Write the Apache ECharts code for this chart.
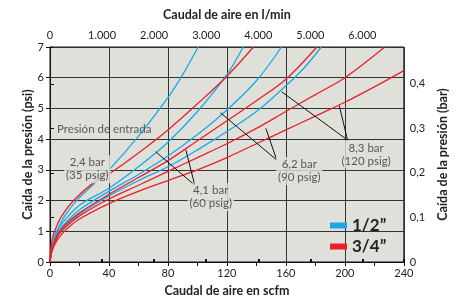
<!DOCTYPE html>
<html>
<head>
<meta charset="utf-8">
<script src="https://cdn.jsdelivr.net/npm/echarts@6/dist/echarts.min.js"></script>
<style>
html, body { margin: 0; padding: 0; background: #fff; }
#chart { width: 457px; height: 302px; }
</style>
</head>
<body>
<div id="chart"></div>
<script>
// caudal (scfm) / caída de presión (psi)
// 1/2" (azul)
var half24 = [[0,0],[0.5,0.3],[1.5,0.6],[3,0.85],[5,1.05],[10,1.5],[18,2.0],[30,2.55],[41,3.05],[60,4.1],[80,5.35],[90,6.1],[100.5,7]];
var half41 = [[0,0],[0.8,0.3],[2.5,0.65],[4.5,0.95],[8,1.25],[20,1.85],[40,2.4],[60,3.1],[80,3.9],[100,4.9],[120,6.1],[131,7]];
var half62 = [[0,0],[1,0.3],[3,0.65],[5.5,0.95],[9,1.2],[20,1.7],[40,2.3],[60,2.85],[80,3.45],[100,4.15],[120,4.95],[140,5.9],[157,7]];
var half83 = [[0,0],[1,0.3],[3,0.6],[6,0.9],[10,1.15],[20,1.55],[40,2.15],[60,2.65],[80,3.1],[100,3.65],[120,4.25],[140,4.9],[158,5.65],[172,6.3],[184,7]];
// 3/4" (rojo)
var quart24 = [[0,0],[0.3,0.3],[1,0.6],[2,0.85],[3.5,1.05],[8,1.5],[16,2.0],[30,2.6],[41,2.9],[60,3.55],[80,4.3],[100,5.15],[120,6.05],[138,7]];
var quart41 = [[0,0],[0.8,0.3],[2.5,0.6],[5,0.9],[9,1.15],[20,1.6],[40,2.2],[60,2.75],[80,3.3],[100,3.95],[120,4.6],[140,5.25],[160,5.95],[181,7]];
var quart62 = [[0,0],[1,0.3],[3,0.6],[6,0.9],[11,1.15],[20,1.5],[40,2.05],[60,2.5],[80,2.95],[100,3.4],[120,3.85],[140,4.35],[160,4.9],[180,5.45],[200,6.0],[227,7]];
var quart83 = [[0,0],[1,0.3],[3,0.55],[7,0.85],[12,1.1],[20,1.4],[40,1.9],[60,2.3],[80,2.65],[100,3.0],[120,3.4],[140,3.85],[160,4.3],[180,4.75],[200,5.2],[220,5.7],[240,6.23]];

// etiquetas de presión de entrada (posición en scfm/psi)
var labelText = ['Presión de entrada', '2,4 bar\n(35 psig)', '4,1 bar\n(60 psig)', '6,2 bar\n(90 psig)', '8,3 bar\n(120 psig)'];
var labelAt = [[36.8,4.32],[25.3,3.02],[109,2.11],[169.1,2.96],[214.4,3.5]];
var leaders = [
    [[71.7,3.59],[98.2,2.5]], [[92.2,3.64],[98.2,2.5]],
    [[115.6,4.86],[153.8,3.32]], [[146.4,4.35],[153.8,3.32]],
    [[157.2,5.54],[201.8,3.97]], [[196.2,5.09],[201.8,3.97]]
];

var SCFM_TO_LMIN = 28.317;
var PSI_TO_BAR = 0.0689476;
var FLOW_MAX = 240;
var PSI_MAX = 7;

var BLUE = '#1aa9e6';
var RED = '#e8202a';
var BG = '#e0e0db';
var FONT = 'Lato';

function curve(name, color, data) {
    return {
        type: 'line', name: name, data: data,
        showSymbol: false, smooth: 0.35,
        lineStyle: { color: color, width: 1.3 },
        itemStyle: { color: color },
        z: 3, silent: true
    };
}

var nameStyle = { fontFamily: FONT, fontWeight: 'bold', fontSize: 12.5, color: '#222' };
var labelStyle = { fontFamily: FONT, fontSize: 11, color: '#222' };

var series = [
    curve('1/2\u201D', BLUE, half24),
    curve('1/2\u201D', BLUE, half41),
    curve('1/2\u201D', BLUE, half62),
    curve('1/2\u201D', BLUE, half83),
    curve('3/4\u201D', RED, quart24),
    curve('3/4\u201D', RED, quart41),
    curve('3/4\u201D', RED, quart62),
    curve('3/4\u201D', RED, quart83)
];

//etiquetas y líneas guía
series.push({
    type: 'scatter',
    symbolSize: 1,
    itemStyle: { color: 'rgba(0,0,0,0)' },
    silent: true,
    z: 10,
    data: labelAt.map(function (p, i) {
        return {
            value: p,
            label: {
                formatter: labelText[i],
                backgroundColor: i === 0 ? 'transparent' : BG
            }
        };
    }),
    label: {
        show: true, position: 'inside',
        fontFamily: FONT, fontSize: 11.5, lineHeight: 13, color: '#333',
        align: 'center', padding: [1, 2]
    },
    markLine: {
        silent: true, symbol: ['none', 'none'],
        label: { show: false },
        lineStyle: { color: '#111', width: 1, type: 'solid' },
        data: leaders.map(function (l) {
            return [{ coord: l[0] }, { coord: l[1] }];
        })
    }
});

var myChart = echarts.init(document.getElementById('chart'));
var option = {
    animation: false,
    grid: {
        left: 50, right: 51, top: 47, bottom: 38,
        show: true, backgroundColor: BG, borderColor: '#111', borderWidth: 1
    },
    legend: {
        orient: 'vertical', left: 325, top: 212,
        itemWidth: 17, itemHeight: 6, itemGap: 4,
        icon: 'rect',
        data: ['1/2\u201D', '3/4\u201D'],
        textStyle: { fontFamily: FONT, fontSize: 17, fontWeight: 'bold', color: '#222' }
    },
    xAxis: [
        {
            type: 'value', position: 'bottom', min: 0, max: FLOW_MAX, interval: 40,
            name: 'Caudal de aire en scfm', nameLocation: 'middle', nameGap: 22,
            nameTextStyle: nameStyle,
            axisLine: { lineStyle: { color: '#111' } },
            axisTick: { length: 4, lineStyle: { color: '#111' } },
            minorTick: { show: true, splitNumber: 2, length: 4, lineStyle: { color: '#111' } },
            axisLabel: Object.assign({ margin: 6 }, labelStyle),
            splitLine: { show: true, lineStyle: { color: '#333', width: 1 } }
        },
        {
            type: 'value', position: 'top', min: 0, max: FLOW_MAX * SCFM_TO_LMIN, interval: 1000,
            name: 'Caudal de aire en l/min', nameLocation: 'middle', nameGap: 26,
            nameTextStyle: nameStyle,
            axisLine: { lineStyle: { color: '#111' } },
            axisTick: { length: 3, lineStyle: { color: '#111', width: 2 } },
            axisLabel: Object.assign({
                margin: 6,
                formatter: function (v) {
                    if (Math.abs(v % 1000) > 0.5) return '';
                    return v === 0 ? '0' : (v / 1000) + '.000';
                }
            }, labelStyle),
            splitLine: { show: false }
        }
    ],
    yAxis: [
        {
            type: 'value', position: 'left', min: 0, max: PSI_MAX, interval: 1,
            name: 'Caída de la presión (psi)', nameLocation: 'middle', nameGap: 22, nameRotate: 90,
            nameMoveOverlap: false,
            nameTextStyle: Object.assign({ verticalAlign: 'middle' }, nameStyle),
            axisLine: { show: true, lineStyle: { color: '#111' } },
            axisTick: { show: true, length: 4, lineStyle: { color: '#111' } },
            axisLabel: Object.assign({ margin: 6 }, labelStyle),
            splitLine: { show: true, lineStyle: { color: '#333', width: 1 } }
        },
        {
            type: 'value', position: 'right', min: 0, max: PSI_MAX * PSI_TO_BAR, interval: 0.1,
            name: 'Caída de la presión (bar)', nameLocation: 'middle', nameGap: 27, nameRotate: 90,
            nameTextStyle: nameStyle,
            axisLine: { show: true, lineStyle: { color: '#111' } },
            axisTick: { show: true, length: 4, lineStyle: { color: '#111' } },
            axisLabel: Object.assign({
                margin: 6,
                formatter: function (v) {
                    if (v > 0.45) return '';
                    return v === 0 ? '0' : v.toFixed(1).replace('.', ',');
                }
            }, labelStyle),
            splitLine: { show: false }
        }
    ],
    series: series
};
myChart.setOption(option);
</script>
</body>
</html>
